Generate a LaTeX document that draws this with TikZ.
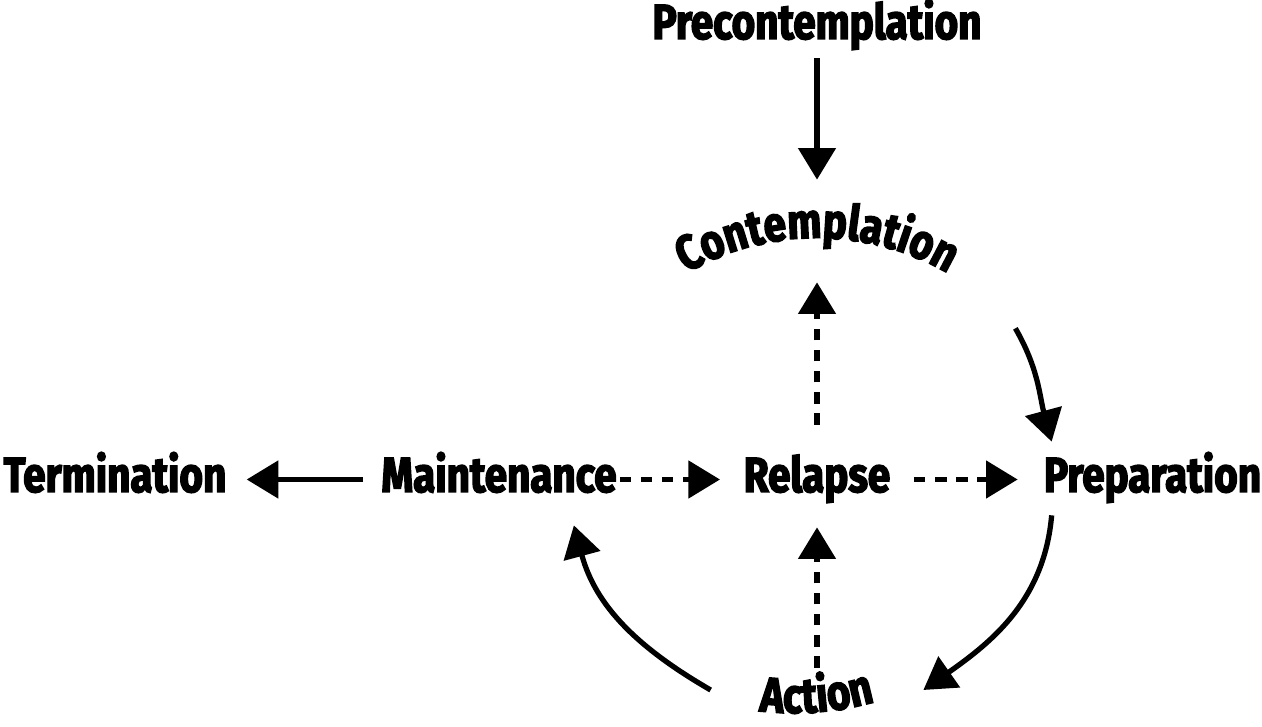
\documentclass[tikz,border=0pt]{standalone}
\usepackage{fontspec}
\newfontfamily\stagefamily{Fira Sans}[FakeStretch=0.82,FakeBold=3]
\newcommand\stagefont{\stagefamily\bfseries\fontsize{28}{32}\selectfont}
\usetikzlibrary{arrows.meta,calc,decorations.text,math}
\tikzset{
  stage/.style = {font=\stagefont, inner sep=0pt, anchor=base,
    text height=0.64cm, text depth=0.14cm},
  link/.style = {line width=3pt, -{Triangle[length=18pt,width=21pt]}},
  dashlink/.style = {link, dash pattern=on 6.5pt off 5.5pt}
}

\begin{document}
\begin{tikzpicture}
    \tikzmath{
      \rowY = 4.68;
      \midX = 16.34;
      \topR = 5.2;
      \lowR = 6;
    }
    \useasboundingbox (0,0) rectangle (25.24,14.52);
    \node[stage, minimum width=6.48cm] (pre) at (\midX, 13.74) {Precontemplation};
    \node[stage, minimum width=4.4cm] (term) at (2.3, \rowY) {Termination};
    \node[stage, minimum width=4.64cm] (maint) at (9.98, \rowY) {Maintenance};
    \node[stage, minimum width=2.86cm] (rel) at (\midX, \rowY) {Relapse};
    \node[stage, minimum width=4.38cm] (prep) at (23.05, \rowY) {Preparation};
    % the two bent labels sit on arcs, the nodes only hold the place
    \node[inner sep=0pt, minimum width=5.4cm, minimum height=1.4cm] (cont) at (\midX, 9.62) {};
    \node[inner sep=0pt, minimum width=4.24cm, minimum height=0.88cm] (act) at (\midX, 0.72) {};
    \path[decorate, decoration={text along path, text align=center,
        text={|\stagefont|Contemplation}}]
      ($(cont.center)+(0,-5.06)+(150:\topR)$) arc[start angle=150, end angle=30, radius=\topR];
    \path[decorate, decoration={text along path, text align=center,
        text={|\stagefont|Action}}]
      ($(act.center)+(-0.46,5.54)+(244:\lowR)$) arc[start angle=244, end angle=305, radius=\lowR];
    % arrows
    \draw[link, shorten <=0.24cm, shorten >=0.6cm] (pre.south) -- (cont.north);
    \draw[dashlink, shorten <=0.7cm, shorten >=0.04cm] (rel.north) -- (cont.south);
    \draw[dashlink, shorten >=0.56cm] (act.north) -- (rel.south);
    \draw[link, shorten <=0.36cm, shorten >=0.4cm] (maint.west) -- (term.east);
    \draw[dashlink, shorten <=0.06cm, shorten >=0.47cm] (maint.east) -- (rel.west);
    \draw[dashlink, shorten <=0.47cm, shorten >=0.5cm] (rel.east) -- (prep.west);
    \draw[link] ([shift={(1.26,-0.96)}]cont.south east)
      to[out=-60, in=105] ([shift={(0.18,0.36)}]prep.north west);
    \draw[link] ([shift={(0.18,-0.32)}]prep.south west)
      to[out=-95, in=35] (act.east);
    \draw[link] (act.west)
      to[out=150, in=-75] ([shift={(-0.86,-0.52)}]maint.south east);
\end{tikzpicture}
\end{document}
